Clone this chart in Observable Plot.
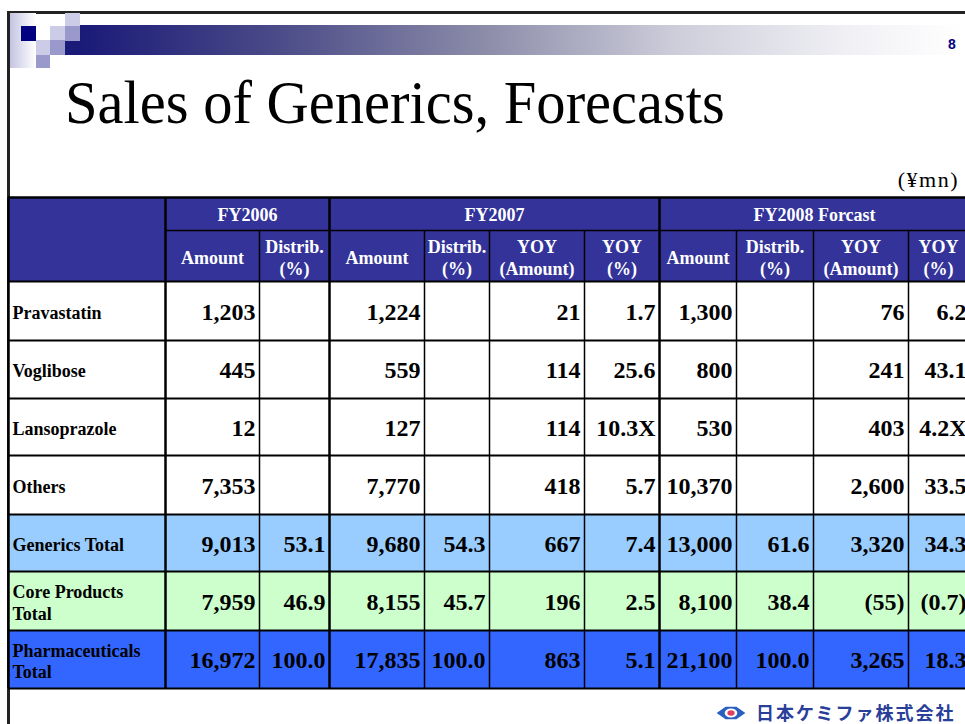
<!DOCTYPE html>
<html>
<head>
<meta charset="utf-8">
<script src="https://cdn.jsdelivr.net/npm/d3@7"></script>
<script src="https://cdn.jsdelivr.net/npm/@observablehq/plot@0.6"></script>
<style>
  html, body { margin: 0; padding: 0; background: #fff; }
  #slide { position: relative; width: 965px; height: 724px; overflow: hidden; background: #fff; }
  .abs { position: absolute; }
  #title { left: 65px; top: 67px; font-family: "Liberation Serif", "Times New Roman", serif; font-size: 62px; line-height: 70px; color: #000; white-space: nowrap; transform: scaleX(0.944); transform-origin: 0 0; }
  #unit { right: 6px; top: 167px; font-family: "Liberation Serif", "Times New Roman", serif; font-size: 22px; line-height: 26px; color: #000; letter-spacing: 1.5px; }
  #pageno { left: 948px; top: 36px; font-family: "Liberation Sans", Arial, sans-serif; font-weight: bold; font-size: 14px; color: #000080; }
  #logo { left: 756px; top: 702px; font-family: "Noto Sans CJK JP", sans-serif; font-weight: bold; font-size: 18px; line-height: 20px; height: 20px; color: #2a3f9a; white-space: nowrap; letter-spacing: 2px; }
  #chart { position: absolute; left: 0; top: 0; }
</style>
</head>
<body>
<div id="slide">
  <!-- slide frame -->
  <div class="abs" style="left:7px;top:11px;width:960px;height:2.5px;background:#222;"></div>
  <div class="abs" style="left:7px;top:11px;width:2.5px;height:713px;background:#222;"></div>
  <!-- decorative header -->
  <div class="abs" style="left:10px;top:13px;width:26px;height:55px;background:linear-gradient(to right,#c4c4e2,#ffffff);"></div>
  <div class="abs" style="left:80px;top:25px;width:885px;height:30px;background:linear-gradient(to right,#1a1a78 0%,#4a4a88 22%,#8a8aa8 45%,#cfcfdc 68%,#f2f2f6 88%,#ffffff 100%);"></div>
  <div class="abs" style="left:65px;top:41px;width:15px;height:14px;background:#1a1a78;"></div>
  <div class="abs" style="left:21px;top:26px;width:15px;height:15px;background:#000080;"></div>
  <div class="abs" style="left:36px;top:40px;width:14px;height:15px;background:#ccccE6;"></div>
  <div class="abs" style="left:36px;top:55px;width:14px;height:13px;background:#9999cc;"></div>
  <div class="abs" style="left:50px;top:26px;width:15px;height:14px;background:#ccccE6;"></div>
  <div class="abs" style="left:50px;top:40px;width:15px;height:15px;background:#9999cc;"></div>
  <div class="abs" style="left:65px;top:13px;width:15px;height:13px;background:#ccccE6;"></div>
  <div class="abs" style="left:65px;top:26px;width:15px;height:15px;background:#9999cc;"></div>
  <div id="pageno" class="abs">8</div>
  <div id="title" class="abs">Sales of Generics, Forecasts</div>
  <div id="unit" class="abs">(¥mn)</div>
  <svg class="abs" style="left:714px;top:704px;" width="34" height="18" viewBox="0 0 36 20">
    <path d="M2 10 L12 3 L24 3 L34 10 L24 17 L12 17 Z" fill="#2a5fc0"/>
    <ellipse cx="18" cy="10" rx="7" ry="5" fill="#fff"/>
    <ellipse cx="18" cy="10" rx="4" ry="3" fill="#e04060"/>
  </svg>
  <div id="logo" class="abs">日本ケミファ株式会社</div>
  <div id="chart"></div>
</div>
<script>
// ---------------- data ----------------
const rowLabels = ["Pravastatin", "Voglibose", "Lansoprazole", "Others",
                   "Generics Total", "Core Products\nTotal", "Pharmaceuticals\nTotal"];
const groupHeaders = ["FY2006", "FY2007", "FY2008 Forcast"];
const subHeaders = ["Amount", "Distrib.\n(%)",
                    "Amount", "Distrib.\n(%)", "YOY\n(Amount)", "YOY\n(%)",
                    "Amount", "Distrib.\n(%)", "YOY\n(Amount)", "YOY\n(%)"];
const fy2006Amount  = [1203, 445, 12, 7353, 9013, 7959, 16972];
const fy2006Distrib = [null, null, null, null, 53.1, 46.9, 100.0];
const fy2007Amount  = [1224, 559, 127, 7770, 9680, 8155, 17835];
const fy2007Distrib = [null, null, null, null, 54.3, 45.7, 100.0];
const fy2007YoyAmt  = [21, 114, 114, 418, 667, 196, 863];
const fy2007YoyPct  = [1.7, 25.6, "10.3X", 5.7, 7.4, 2.5, 5.1];
const fy2008Amount  = [1300, 800, 530, 10370, 13000, 8100, 21100];
const fy2008Distrib = [null, null, null, null, 61.6, 38.4, 100.0];
const fy2008YoyAmt  = [76, 241, 403, 2600, 3320, -55, 3265];
const fy2008YoyPct  = [6.2, 43.1, "4.2X", 33.5, 34.3, -0.7, 18.3];

// ---------------- layout / style ----------------
const colEdges = [8, 165, 259, 329, 424, 489, 584, 659, 736, 813, 908, 970];
const groupSpans = [[1, 3], [3, 7], [7, 11]];
const rowEdges = [281, 340, 398, 455, 514, 571, 630, 688];
const headTop = 197, headMid = 230;
const rowFills = ["#ffffff", "#ffffff", "#ffffff", "#ffffff", "#99ccff", "#ccffcc", "#3366ff"];
const headFill = "#333399";
const serif = "'Liberation Serif','Times New Roman',Times,serif";

const valueCols = [
  [fy2006Amount, "amt"], [fy2006Distrib, "pct"],
  [fy2007Amount, "amt"], [fy2007Distrib, "pct"], [fy2007YoyAmt, "amt"], [fy2007YoyPct, "pct"],
  [fy2008Amount, "amt"], [fy2008Distrib, "pct"], [fy2008YoyAmt, "amt"], [fy2008YoyPct, "pct"]
];
const fmtComma = d3.format(",");
function fmt(v, kind) {
  if (v == null) return null;
  if (typeof v === "string") return v;
  if (kind === "amt") return v < 0 ? `(${fmtComma(-v)})` : fmtComma(v);
  return v < 0 ? `(${(-v).toFixed(1)})` : v.toFixed(1);
}

const rowRects = rowLabels.map((lab, r) => ({
  x1: colEdges[0], x2: colEdges[colEdges.length - 1],
  y1: rowEdges[r], y2: rowEdges[r + 1], fill: rowFills[r]
}));
const cells = [];
rowLabels.forEach((lab, r) => {
  valueCols.forEach(([arr, kind], c) => {
    const t = fmt(arr[r], kind);
    if (t != null) cells.push({x: colEdges[c + 2] - 4, y: (rowEdges[r] + rowEdges[r + 1]) / 2 + 1, text: t});
  });
});
const labels = rowLabels.map((lab, r) => ({x: colEdges[0] + 4, y: (rowEdges[r] + rowEdges[r + 1]) / 2 + 1, text: lab}));
const groupText = groupHeaders.map((g, i) => ({
  x: (colEdges[groupSpans[i][0]] + Math.min(colEdges[groupSpans[i][1]], 965)) / 2 + (i === 2 ? 2 : 0),
  y: (headTop + headMid) / 2 + 1, text: g
}));
const subText = subHeaders.map((s, i) => ({
  x: (colEdges[i + 1] + Math.min(colEdges[i + 2], 968)) / 2,
  y: (headMid + rowEdges[0]) / 2 + 1, text: s
}));

const majorV = [0, 1, 3, 7].map(i => ({x: colEdges[i], y1: headTop, y2: rowEdges[rowEdges.length - 1]}));
const minorV = [2, 4, 5, 6, 8, 9, 10].map(i => ({x: colEdges[i], y1: headMid, y2: rowEdges[rowEdges.length - 1]}));
const hLines = rowEdges.map(y => ({y, x1: colEdges[0], x2: colEdges[colEdges.length - 1]}));

const chart = Plot.plot({
  width: 965, height: 724, margin: 0,
  x: {domain: [0, 965], range: [0, 965], axis: null},
  y: {domain: [0, 724], range: [0, 724], axis: null},
  style: {background: "transparent", overflow: "hidden"},
  marks: [
    Plot.rect([{x1: colEdges[0], x2: colEdges[colEdges.length - 1], y1: headTop, y2: rowEdges[0]}],
      {x1: "x1", x2: "x2", y1: "y1", y2: "y2", fill: headFill}),
    Plot.rect(rowRects, {x1: "x1", x2: "x2", y1: "y1", y2: "y2", fill: d => d.fill}),
    Plot.ruleY([{y: headMid, x1: colEdges[1], x2: colEdges[colEdges.length - 1]}], {y: "y", x1: "x1", x2: "x2", stroke: "#000", strokeWidth: 1.5}),
    Plot.ruleY([{y: headTop, x1: colEdges[0], x2: colEdges[colEdges.length - 1]}], {y: "y", x1: "x1", x2: "x2", stroke: "#000", strokeWidth: 2.5}),
    Plot.ruleY(hLines, {y: "y", x1: "x1", x2: "x2", stroke: "#000", strokeWidth: 2}),
    Plot.ruleX(minorV, {x: "x", y1: "y1", y2: "y2", stroke: "#000", strokeWidth: 1.5}),
    Plot.ruleX(majorV, {x: "x", y1: "y1", y2: "y2", stroke: "#000", strokeWidth: 2.5}),
    Plot.text(groupText, {x: "x", y: "y", text: "text", fill: "#fff", fontSize: 18, fontWeight: "bold", fontFamily: serif}),
    Plot.text(subText, {x: "x", y: "y", text: "text", fill: "#fff", fontSize: 18, fontWeight: "bold", fontFamily: serif, lineHeight: 1.25}),
    Plot.text(labels, {x: "x", y: "y", text: "text", textAnchor: "start", fill: "#000", fontSize: 18, fontWeight: "bold", fontFamily: serif, lineHeight: 1.2}),
    Plot.text(cells, {x: "x", y: "y", text: "text", textAnchor: "end", fill: "#000", fontSize: 24, fontWeight: "bold", fontFamily: serif})
  ]
});
document.getElementById("chart").appendChild(chart);
</script>
</body>
</html>
